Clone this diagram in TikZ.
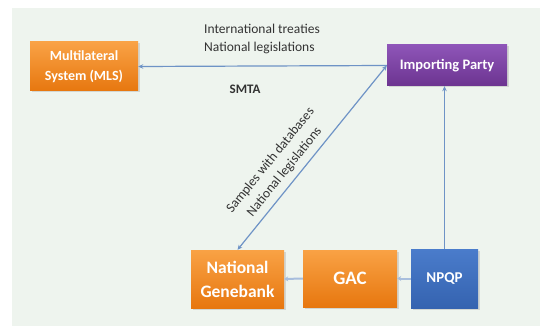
\documentclass[tikz,border=0pt]{standalone}
\usepackage{fontspec}
\setmainfont{Carlito}
\usetikzlibrary{arrows.meta,shadows}

\definecolor{bgpanel}{HTML}{EEF4EE}
\definecolor{linkblue}{HTML}{6E93C6}
\definecolor{labelgray}{HTML}{333333}
\definecolor{orangetop}{HTML}{F9A245}
\definecolor{orangebot}{HTML}{E7770F}
\definecolor{purpletop}{HTML}{8E55B8}
\definecolor{purplebot}{HTML}{6C3490}
\definecolor{bluetop}{HTML}{4A7CCB}
\definecolor{bluebot}{HTML}{3563B0}

\begin{document}
\begin{tikzpicture}[
		x=1pt,y=-1pt,
		every node/.style={font=\fontsize{14}{20}\selectfont\bfseries,text=white,align=center},
		party/.style={rectangle,inner sep=2pt,drop shadow={opacity=0.25,shadow xshift=1.5pt,shadow yshift=-1.5pt}},
		orangebox/.style={party,top color=orangetop,bottom color=orangebot},
		purplebox/.style={party,top color=purpletop,bottom color=purplebot},
		bluebox/.style={party,top color=bluetop,bottom color=bluebot},
		link/.style={draw=linkblue,line width=1.2pt,-{Stealth[length=5pt,width=4.5pt]}},
		shortlink/.style={draw=linkblue!60!white,line width=2pt,-{Stealth[length=4pt,width=5pt]}},
		note/.style={font=\fontsize{13.5}{18}\selectfont,text=labelgray}
		]
		\useasboundingbox (0,0) rectangle (540,326);
		\fill[bgpanel] (12,8) rectangle (540,326);

		\node[orangebox,minimum width=108pt,minimum height=49pt] (mls) at (84,66.5) {Multilateral\\System (MLS)};
		\node[purplebox,minimum width=120pt,minimum height=41pt,font=\fontsize{14.5}{18}\selectfont\bfseries] (imp) at (447,65.5) {Importing Party};
		\node[orangebox,minimum width=93pt,minimum height=58pt,font=\fontsize{17.5}{24}\selectfont\bfseries] (gene) at (237.5,279) {National\\Genebank};
		\node[orangebox,minimum width=94pt,minimum height=57pt,font=\fontsize{19}{22}\selectfont\bfseries] (gac) at (350,278.5) {GAC};
		\node[bluebox,minimum width=67pt,minimum height=59pt,font=\fontsize{15}{18}\selectfont\bfseries] (npqp) at (444.5,278.5) {NPQP};

		\node[note,align=left] (laws) at (262,39) {International treaties\\National legislations};
		\node[note,font=\fontsize{13}{15}\selectfont\bfseries] (smta) at (245,89) {SMTA};

		\draw[link] (imp.west) -- (mls.east);
		\draw[link,{Stealth[length=5pt,width=4.5pt]}-{Stealth[length=5pt,width=4.5pt]}] (imp.west) -- (gene.north)
			node[note,sloped,above,pos=0.62,inner sep=6pt] (samples) {Samples with databases\\National legislations};
		\draw[link] (npqp.north) -- (npqp.north |- imp.south);
		\draw[shortlink] (npqp.west) -- (gac.east);
		\draw[shortlink] (gac.west) -- (gene.east);
		\end{tikzpicture}
\end{document}
